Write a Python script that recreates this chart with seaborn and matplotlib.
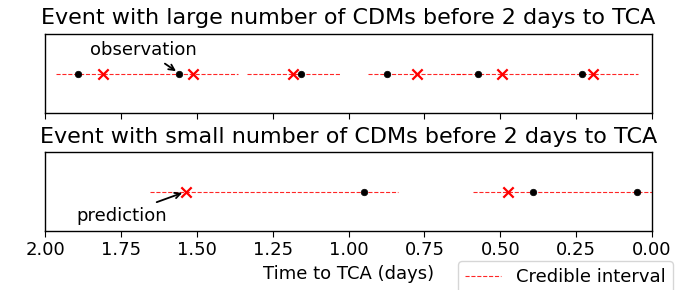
import matplotlib
matplotlib.use("Agg")
import matplotlib.pyplot as plt
from matplotlib.lines import Line2D
import numpy as np
import pandas as pd
import seaborn as sns

sns.set_style("ticks")
plt.rcParams['font.family'] = ['DejaVu Sans']
plt.rcParams['text.color'] = 'black'
plt.rcParams['axes.labelcolor'] = 'black'

# event 1 : many CDMs before 2 days to TCA
large_obs_t = [1.892, 1.557, 1.158, 0.872, 0.574, 0.232]
large_pred_t = [1.808, 1.511, 1.182, 0.775, 0.493, 0.193]
large_ci_lo = [1.965, 1.660, 1.333, 0.935, 0.645, 0.345]
large_ci_hi = [1.655, 1.363, 1.028, 0.620, 0.340, 0.046]

# event 2 : few CDMs before 2 days to TCA
small_obs_t = [0.949, 0.393, 0.050]
small_pred_t = [1.535, 0.473]
small_ci_lo = [1.654, 0.589]
small_ci_hi = [0.836, -0.100]

titles = ["Event with large number of CDMs before 2 days to TCA",
          "Event with small number of CDMs before 2 days to TCA"]
xticks = [2.00, 1.75, 1.50, 1.25, 1.00, 0.75, 0.50, 0.25, 0.00]

fig = plt.figure(figsize=(6.98, 2.9), dpi=100)
ax1 = fig.add_axes([0.0645, 0.6103, 0.8696, 0.2725])
ax2 = fig.add_axes([0.0645, 0.2034, 0.8696, 0.2725])

panels = [
    (ax1, large_obs_t, large_pred_t, large_ci_lo, large_ci_hi),
    (ax2, small_obs_t, small_pred_t, small_ci_lo, small_ci_hi),
]
for ax, obs, pred, lo, hi in panels:
    ax.hlines(np.zeros(len(lo)), lo, hi, colors='red', linestyles='--',
              linewidth=0.8, alpha=0.85, zorder=1)
    sns.scatterplot(x=obs, y=np.zeros(len(obs)), ax=ax, color='black',
                    s=22, edgecolor='black', linewidth=0.5, zorder=3)
    sns.scatterplot(x=pred, y=np.zeros(len(pred)), ax=ax, color='red',
                    marker='x', s=55, linewidth=1.6, zorder=4)
    ax.set_xlim(2.0, 0.0)
    ax.set_ylim(-1, 1)
    ax.set_yticks([])
    ax.set_xticks(xticks)
    for sp in ax.spines.values():
        sp.set_color('black')
        sp.set_linewidth(1.0)
    ax.tick_params(axis='x', colors='black', labelsize=13, length=4)

ax1.set_xticklabels([])
ax2.set_xticklabels([f"{t:.2f}" for t in xticks])
ax1.set_title(titles[0], fontsize=16, pad=7)
ax2.set_title(titles[1], fontsize=16, pad=6.5)
ax2.set_xlabel("Time to TCA (days)", fontsize=13, labelpad=4)

ax1.text(1.852, 0.47, "observation", fontsize=13, ha='left', va='baseline')
ax1.annotate("", xy=(large_obs_t[1], 0), xytext=(1.605, 0.25),
             arrowprops=dict(arrowstyle='->', color='black', lw=1.3,
                             shrinkA=0, shrinkB=3))
ax2.text(1.896, -0.75, "prediction", fontsize=13, ha='left', va='baseline')
ax2.annotate("", xy=(small_pred_t[0], 0), xytext=(1.632, -0.27),
             arrowprops=dict(arrowstyle='->', color='black', lw=1.3,
                             shrinkA=0, shrinkB=3))

handle = Line2D([], [], color='red', linestyle='--', linewidth=0.8, alpha=0.85)
fig.legend([handle], ["Credible interval"], loc='upper left',
           bbox_to_anchor=(458 / 698, 1 - 261 / 290), borderaxespad=0,
           fontsize=13, frameon=True)

fig.savefig("out.png", dpi=100)
plt.close()
